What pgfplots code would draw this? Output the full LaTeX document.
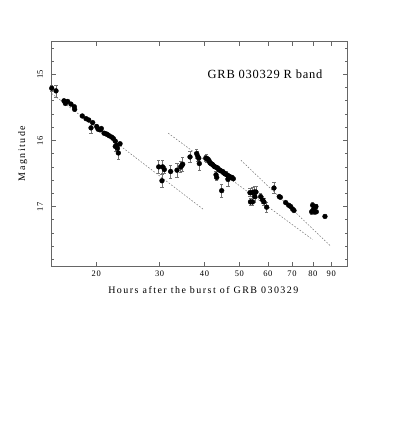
\documentclass[border=0pt]{standalone}
\usepackage{fontspec}
\setmainfont{Liberation Serif}
\newfontfamily\labfont{Liberation Serif}[LetterSpace=15]
\newfontfamily\ttlfont{Liberation Serif}[LetterSpace=6]
\newfontfamily\tickfont{Liberation Serif}[LetterSpace=8]
\usepackage{pgfplots}
\usepackage{pgfplotstable}
\pgfplotsset{compat=1.18}

\pgfplotstableread{
h m e
15.04 15.21 0.04
15.46 15.25 0.09
16.27 15.40 0
16.41 15.44 0
16.48 15.42 0
16.66 15.41 0
17.01 15.45 0
17.38 15.49 0
17.42 15.53 0.02
18.29 15.63 0
18.73 15.67 0
19.05 15.69 0
19.34 15.81 0.08
19.55 15.73 0
20.06 15.79 0.03
20.23 15.83 0
20.49 15.84 0
20.66 15.82 0.02
21.02 15.89 0
21.29 15.90 0
21.47 15.91 0
21.74 15.93 0
22.08 15.95 0
22.31 15.97 0
22.59 16.01 0.02
22.59 16.09 0.07
22.80 16.07 0.06
22.90 16.12 0.08
23.04 16.19 0.10
23.29 16.05 0.03
}\groupA

\pgfplotstableread{
h m e
29.83 16.40 0.10
30.46 16.61 0.10
30.60 16.40 0.10
30.92 16.44 0.05
32.20 16.47 0.10
33.54 16.45 0.10
34.33 16.40 0.08
34.60 16.38 0.06
34.78 16.36 0.10
36.45 16.25 0.08
38.04 16.20 0.07
38.30 16.24 0.08
38.55 16.27 0.05
38.69 16.35 0.10
40.30 16.27 0.05
40.55 16.27 0.06
40.97 16.29 0.03
41.20 16.31 0
41.42 16.34 0
41.70 16.35 0
41.96 16.36 0
42.20 16.37 0
42.50 16.39 0
42.80 16.40 0
43.05 16.52 0.05
43.25 16.56 0.05
43.25 16.41 0
43.50 16.42 0
43.80 16.44 0
44.10 16.45 0
44.36 16.46 0.02
44.64 16.76 0.10
44.93 16.47 0
45.20 16.49 0
45.50 16.50 0.03
45.80 16.51 0
46.09 16.52 0.05
46.48 16.59 0.10
46.63 16.54 0
47.08 16.55 0
47.40 16.56 0
47.69 16.56 0
48.09 16.58 0
}\groupB

\pgfplotstableread{
h m e
53.49 16.79 0.06
53.67 16.93 0.05
54.29 16.79 0.08
54.38 16.93 0.05
54.99 16.78 0.08
55.20 16.85 0.08
55.59 16.78 0.08
57.29 16.85 0.05
58.02 16.90 0.05
58.51 16.93 0.05
59.52 17.01 0.07
62.39 16.72 0.08
64.53 16.85 0
65.00 16.86 0
67.23 16.94 0
68.53 16.98 0
69.42 17.00 0
70.32 17.04 0
70.91 17.06 0
79.40 17.08 0.04
79.90 16.98 0.05
80.58 17.03 0
81.00 17.08 0.03
81.60 17.00 0.03
81.80 17.08 0
86.46 17.15 0
}\groupC

\begin{document}
\begin{tikzpicture}
\path (0,0) rectangle (399bp,436bp);
\begin{axis}[
  at={(51.3bp,170bp)}, anchor=south west,
  scale only axis, width=296.4bp, height=224.7bp,
  xmode=log, xmin=15, xmax=100,
  ymin=14.5, ymax=17.9, y dir=reverse,
  xtick={20,30,40,50,60,70,80,90},
  xticklabels={20,30,40,50,60,70,80,90},
  minor xtick={},
  ytick={15,16,17},
  yticklabels={15,16,17},
  minor ytick={14.6,14.8,15.2,15.4,15.6,15.8,16.2,16.4,16.6,16.8,17.2,17.4,17.6,17.8},
  tick align=inside,
  major tick length=4.5bp, minor tick length=3bp,
  axis line style={black!60, line width=0.6pt},
  tick style={black!60, line width=0.6pt},
  xticklabel style={font=\tickfont\fontsize{8.5}{9}\selectfont, anchor=center, yshift=-7.3bp},
  yticklabel style={font=\tickfont\fontsize{8.5}{9}\selectfont, rotate=90, anchor=center, yshift=11.3bp},
  xlabel={Hours after the burst of GRB 030329},
  ylabel={Magnitude},
  xlabel style={font=\labfont\fontsize{10}{12}\selectfont, at={(axis description cs:0.513,-0.107)}, anchor=center},
  ylabel style={font=\labfont\fontsize{10}{12}\selectfont, at={(axis description cs:-0.0965,0.5)}, anchor=center, rotate=0},
  clip=false,
  error bars/y dir=both, error bars/y explicit,
  error bars/error bar style={black!55, line width=0.5pt},
  error bars/error mark options={rotate=90, mark size=1.6bp, black!55, line width=0.5pt},
]
\addplot[only marks, mark=*, mark size=2.4bp, black] table[x=h, y=m, y error=e]{\groupA};
\addplot[only marks, mark=*, mark size=2.4bp, black] table[x=h, y=m, y error=e]{\groupB};
\addplot[only marks, mark=*, mark size=2.4bp, black] table[x=h, y=m, y error=e]{\groupC};
\addplot[black!55, line width=0.5pt, dash pattern=on 1.6bp off 1.6bp] coordinates {(15.04,15.29) (39.86,17.05)};
\addplot[black!55, line width=0.5pt, dash pattern=on 1.6bp off 1.6bp] coordinates {(31.7,15.89) (79.9,17.50)};
\addplot[black!55, line width=0.5pt, dash pattern=on 1.6bp off 1.6bp] coordinates {(50.5,16.30) (89.7,17.60)};
\node[font=\ttlfont\fontsize{12.5}{14}\selectfont, anchor=center] at (rel axis cs:0.721,0.853) {GRB 030329 R band};
\end{axis}
\end{tikzpicture}
\end{document}
